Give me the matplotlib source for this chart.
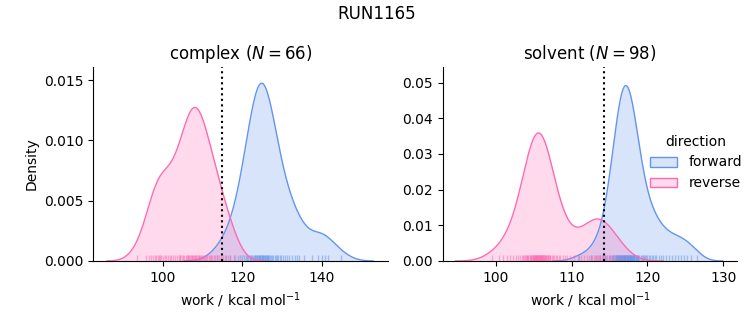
import numpy as np
import matplotlib
matplotlib.use('Agg')
import matplotlib.pyplot as plt
from matplotlib.patches import Patch

# work values (kcal/mol)
complex_forward = [113.5, 115.8, 117.0, 118.0, 118.8, 119.4, 119.9, 120.4, 120.8, 121.2,
                   121.5, 121.8, 122.0, 122.1, 122.4, 122.7, 122.9, 123.1, 123.3, 123.5,
                   123.6, 123.7, 123.9, 124.1, 124.3, 124.4, 124.5, 124.7, 124.9, 125.0,
                   125.1, 125.3, 125.5, 125.6, 125.7, 125.9, 126.1, 126.3, 126.4, 126.5,
                   126.7, 126.9, 127.2, 127.5, 127.8, 128.1, 128.4, 128.7, 129.0, 129.4,
                   129.8, 130.2, 130.7, 131.2, 131.8, 132.5, 133.3, 133.8, 134.2, 135.5,
                   137.5, 139.0, 140.0, 140.8, 141.6, 144.8]
complex_reverse = [93.4, 95.8, 96.5, 97.1, 97.6, 98.0, 98.3, 98.7, 99.0, 99.3,
                   99.6, 99.9, 100.5, 100.9, 101.3, 101.7, 102.1, 102.6, 103.0, 103.5,
                   104.0, 104.2, 104.4, 104.8, 105.1, 105.4, 105.7, 106.0, 106.2, 106.4,
                   106.6, 106.8, 107.0, 107.2, 107.4, 107.6, 107.8, 108.0, 108.2, 108.4,
                   108.6, 108.8, 109.0, 109.2, 109.4, 109.6, 109.8, 110.0, 110.3, 110.6,
                   110.9, 111.2, 111.5, 111.8, 112.1, 112.4, 112.8, 113.2, 113.6, 114.0,
                   114.5, 115.0, 115.6, 116.3, 117.0, 118.2]
solvent_forward = [111.0, 112.5, 113.2, 113.7, 114.1, 114.4, 114.7, 114.9, 115.1, 115.3,
                   115.4, 115.5, 115.6, 115.7, 115.8, 115.85, 115.9, 116.0, 116.05, 116.1,
                   116.15, 116.2, 116.25, 116.3, 116.35, 116.4, 116.45, 116.5, 116.55, 116.6,
                   116.65, 116.7, 116.75, 116.8, 116.85, 116.9, 116.95, 117.0, 117.05, 117.05,
                   117.1, 117.15, 117.2, 117.25, 117.3, 117.35, 117.4, 117.45, 117.5, 117.55,
                   117.6, 117.65, 117.7, 117.75, 117.8, 117.85, 117.9, 117.95, 118.0, 118.05,
                   118.1, 118.2, 118.25, 118.3, 118.4, 118.45, 118.5, 118.6, 118.65, 118.7,
                   118.8, 118.95, 119.1, 119.25, 119.4, 119.55, 119.7, 119.85, 120.0, 120.2,
                   120.4, 120.6, 120.8, 121.0, 121.2, 121.5, 121.8, 122.1, 122.4, 122.8,
                   123.2, 123.6, 124.0, 124.4, 124.8, 125.2, 125.8, 126.5]
solvent_reverse = [99.5, 100.4, 101.0, 101.5, 101.9, 102.3, 102.6, 102.9, 103.2, 103.4,
                   103.6, 103.7, 103.8, 104.0, 104.05, 104.15, 104.25, 104.3, 104.45, 104.55,
                   104.6, 104.7, 104.8, 104.85, 104.9, 105.0, 105.05, 105.1, 105.15, 105.2,
                   105.25, 105.3, 105.35, 105.4, 105.45, 105.5, 105.55, 105.6, 105.65, 105.7,
                   105.75, 105.8, 105.85, 105.9, 105.95, 106.0, 106.05, 106.1, 106.15, 106.2,
                   106.25, 106.3, 106.4, 106.45, 106.5, 106.6, 106.65, 106.75, 106.85, 106.9,
                   107.05, 107.1, 107.2, 107.35, 107.5, 107.7, 107.9, 108.1, 108.3, 108.5,
                   108.8, 109.1, 109.4, 109.8, 110.3, 110.8, 111.3, 111.7, 112.0, 112.3,
                   112.5, 112.7, 112.9, 113.1, 113.3, 113.5, 113.6, 113.8, 114.0, 114.2,
                   114.4, 114.6, 114.9, 115.2, 115.5, 115.9, 116.4, 117.2]

phases = ['complex', 'solvent']
n_samples = [66, 98]
free_energy = [114.85, 114.27]   # dotted lines
density_weight = [0.20, 0.285]   # share of each direction in the normalised density

colors = {'forward': '#6495ED', 'reverse': '#FF69B4'}


def kde(values, weight):
    values = np.asarray(values)
    bw = values.std(ddof=1) * len(values) ** (-1 / 5)
    grid = np.linspace(values.min() - 3 * bw, values.max() + 3 * bw, 200)
    dens = np.exp(-0.5 * ((grid[:, None] - values[None, :]) / bw) ** 2).sum(axis=1)
    dens /= len(values) * bw * np.sqrt(2 * np.pi)
    return grid, dens * weight


fig = plt.figure(figsize=(7.53, 3.25), dpi=100)
ax1 = fig.add_axes([0.1235, 0.197, 0.3915, 0.597])
ax2 = fig.add_axes([0.588, 0.197, 0.391, 0.597])

data = {'complex': {'forward': complex_forward, 'reverse': complex_reverse},
        'solvent': {'forward': solvent_forward, 'reverse': solvent_reverse}}

for ax, phase, n, dg, w in zip([ax1, ax2], phases, n_samples, free_energy, density_weight):
    for direction in ['forward', 'reverse']:
        values = data[phase][direction]
        x, y = kde(values, w)
        ax.fill_between(x, y, color=colors[direction], alpha=0.25, lw=0)
        ax.plot(x, y, color=colors[direction], lw=1)
        ax.vlines(values, 0, 0.03, transform=ax.get_xaxis_transform(),
                  color=colors[direction], alpha=0.5, lw=1)
    ax.axvline(dg, color='k', ls=':', lw=1.5)
    ax.set_title(phase + ' ($N=%d$)' % n)
    ax.set_xlabel('work / kcal mol$^{-1}$')
    ax.spines['top'].set_visible(False)
    ax.spines['right'].set_visible(False)

ax1.set_xlim(82.4, 156.6)
ax1.set_ylim(0, 0.0161)
ax1.set_xticks([100, 120, 140])
ax1.set_yticks([0, 0.005, 0.010, 0.015])
ax1.set_yticklabels(['0.000', '0.005', '0.010', '0.015'])
ax1.set_ylabel('Density')

ax2.set_xlim(93.0, 131.85)
ax2.set_ylim(0, 0.0544)
ax2.set_xticks([100, 110, 120, 130])
ax2.set_yticks([0, 0.01, 0.02, 0.03, 0.04, 0.05])
ax2.set_yticklabels(['0.00', '0.01', '0.02', '0.03', '0.04', '0.05'])

handles = [Patch(facecolor=matplotlib.colors.to_rgba(colors[d], 0.25), edgecolor=colors[d], label=d)
           for d in ['forward', 'reverse']]
fig.legend(handles=handles, title='direction', frameon=False,
           loc='center left', bbox_to_anchor=(0.846, 0.5))

fig.suptitle('RUN1165', y=0.985)
fig.savefig('out.png', dpi=100)
